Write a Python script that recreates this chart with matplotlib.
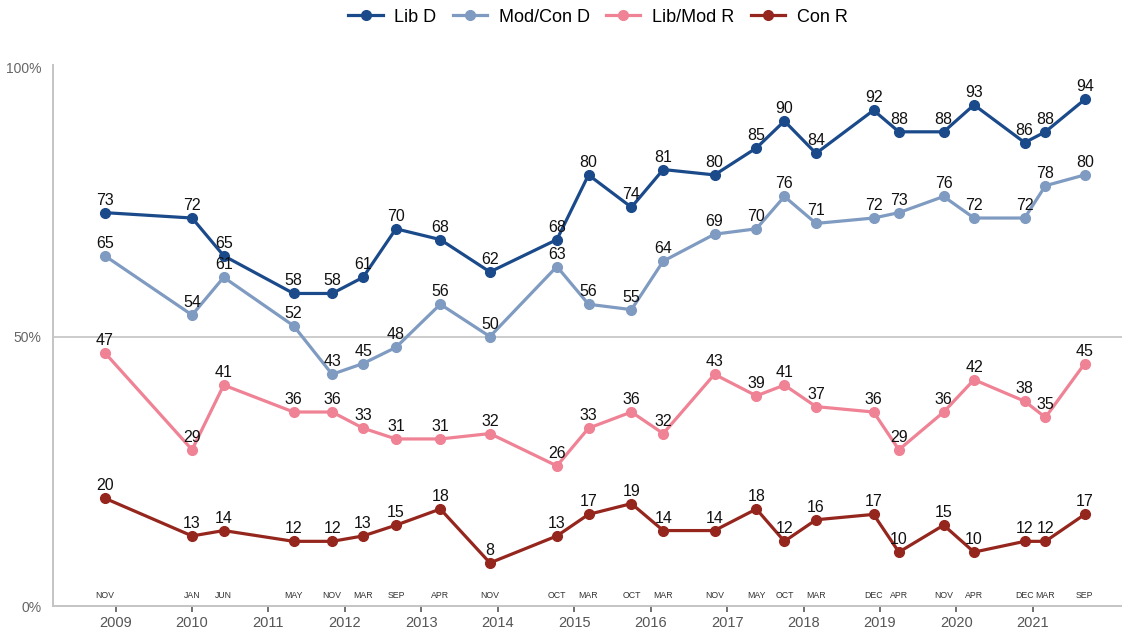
import pandas as pd
import matplotlib
matplotlib.use('Agg')
import matplotlib.pyplot as plt
import matplotlib.dates as mdates

plt.rcParams['font.family'] = ['Liberation Sans', 'DejaVu Sans']

# survey waves: position on the time axis, and the month shown under each point
survey_dates = ['2008-11-10', '2010-01-01', '2010-06-01', '2011-05-01', '2011-11-01', '2012-03-28',
                '2012-09-01', '2013-04-01', '2013-11-24', '2014-10-10', '2015-03-10', '2015-10-01',
                '2016-03-01', '2016-11-01', '2017-05-20', '2017-10-01', '2018-03-01', '2018-12-01',
                '2019-04-01', '2019-11-01', '2020-03-25', '2020-11-22', '2021-03-01', '2021-09-05']
month_labels = ['NOV', 'JAN', 'JUN', 'MAY', 'NOV', 'MAR', 'SEP', 'APR', 'NOV', 'OCT', 'MAR', 'OCT',
                'MAR', 'NOV', 'MAY', 'OCT', 'MAR', 'DEC', 'APR', 'NOV', 'APR', 'DEC', 'MAR', 'SEP']

lib_d = [73, 72, 65, 58, 58, 61, 70, 68, 62, 68, 80, 74,
         81, 80, 85, 90, 84, 92, 88, 88, 93, 86, 88, 94]
mod_con_d = [65, 54, 61, 52, 43, 45, 48, 56, 50, 63, 56, 55,
             64, 69, 70, 76, 71, 72, 73, 76, 72, 72, 78, 80]
lib_mod_r = [47, 29, 41, 36, 36, 33, 31, 31, 32, 26, 33, 36,
             32, 43, 39, 41, 37, 36, 29, 36, 42, 38, 35, 45]
con_r = [20, 13, 14, 12, 12, 13, 15, 18, 8, 13, 17, 19,
         14, 14, 18, 12, 16, 17, 10, 15, 10, 12, 12, 17]

series_names = ['Lib D', 'Mod/Con D', 'Lib/Mod R', 'Con R']
series_values = [lib_d, mod_con_d, lib_mod_r, con_r]
series_colors = ['#1b4a8a', '#7f9bc1', '#ef8294', '#95261d']

year_ticks = list(range(2009, 2022))
y_ticks = [0, 50, 100]

dates = pd.to_datetime(survey_dates)

fig = plt.figure(figsize=(11.22, 6.32), dpi=100)
ax = fig.add_axes([52.5 / 1122, 26 / 632, 1 - 52.5 / 1122, 541 / 632])

for name, vals, col in zip(series_names, series_values, series_colors):
    ax.plot(dates, vals, color=col, lw=2.3, marker='o', ms=7, label=name,
            solid_joinstyle='round', zorder=3)
    for d, v in zip(dates, vals):
        ax.annotate(str(v), (d, v), xytext=(0, 9), textcoords='offset points',
                    ha='center', va='center', fontsize=11.5, color='#111111', zorder=4)

# month labels just above the axis
for d, m in zip(dates, month_labels):
    ax.text(d, 1.9, m, ha='center', va='center', fontsize=6.3, color='#333333')

ax.set_xlim(pd.Timestamp('2008-03-05'), pd.Timestamp('2022-03-02'))
ax.set_ylim(0, 100.4)

ax.set_xticks([pd.Timestamp(f'{y}-01-01') for y in year_ticks])
ax.xaxis.set_major_formatter(mdates.DateFormatter('%Y'))
ax.tick_params(axis='x', length=4, width=1.3, color='#666666', labelsize=10.5,
               labelcolor='#555555', pad=3)

ax.set_yticks(y_ticks)
ax.set_yticklabels([f'{t}%' for t in y_ticks])
ax.tick_params(axis='y', length=0, labelsize=10, labelcolor='#666666', pad=8)

ax.axhline(50, color='#c8c8c8', lw=1.3, zorder=1)

for s in ['top', 'right']:
    ax.spines[s].set_visible(False)
for s in ['left', 'bottom']:
    ax.spines[s].set_color('#c4c4c4')
    ax.spines[s].set_linewidth(1.4)

fig.legend(loc='center', bbox_to_anchor=(598 / 1122, 1 - 17 / 632), ncol=4, frameon=False,
           fontsize=13, handlelength=1.9, handletextpad=0.65, columnspacing=0.9)

fig.savefig('out.png', dpi=100)
